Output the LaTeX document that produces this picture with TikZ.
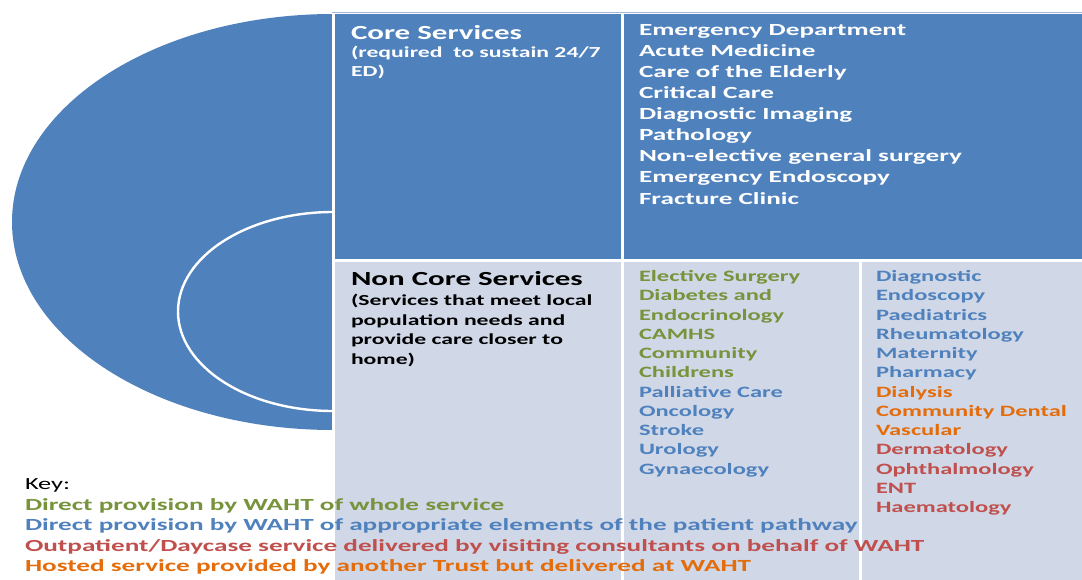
\documentclass[tikz,border=0pt]{standalone}
\usepackage{fontspec}
\setmainfont{Carlito}[FakeStretch=1.55]
\newfontfamily\widefont{Carlito}[FakeStretch=1.6]
\definecolor{coreblue}{HTML}{4F81BD}
\definecolor{lightcell}{HTML}{D0D8E8}
\definecolor{rimline}{HTML}{A3B8D6}
\definecolor{kgreen}{HTML}{77933C}
\definecolor{kblue}{HTML}{4F81BD}
\definecolor{kred}{HTML}{C0504D}
\definecolor{korange}{HTML}{E46C0A}
\begin{document}
\begin{tikzpicture}[x=1pt,y=-1pt,
  cellcore/.style={fill=coreblue,draw=white,line width=3pt},
  celllight/.style={fill=lightcell,draw=white,line width=3pt},
  txt/.style={anchor=base west,inner sep=0pt,outer sep=0pt},
  heading/.style={txt,font=\fontsize{20}{24}\selectfont\bfseries},
  subline/.style={txt,font=\fontsize{15.3}{19}\selectfont\bfseries},
  coreitem/.style={txt,text=white,font=\widefont\fontsize{17}{21}\selectfont\bfseries},
  listitem/.style={txt,font=\fontsize{15.8}{19}\selectfont\bfseries},
  keyline/.style={txt,font=\widefont\fontsize{17}{20}\selectfont\bfseries}]
\useasboundingbox (0,0) rectangle (1082,580);

% nested rings on the left, right halves hidden behind the table
\fill[coreblue] (333,222) ellipse [x radius=321, y radius=208];
\draw[white,line width=2.4pt,fill=coreblue] (333,311.5) ellipse [x radius=155, y radius=99.5];

% table cells
\path[cellcore]  (333,13)  rectangle (622,261);
\path[cellcore]  (622,13)  rectangle (1084,261);
\path[celllight] (333,261) rectangle (622,582);
\path[celllight] (622,261) rectangle (860,582);
\path[celllight] (860,261) rectangle (1084,582);
\draw[rimline,line width=1.5pt] (332,12.5) -- (1082,12.5);

% core services
\node[heading,text=white] (corehead) at (351,39.5) {Core Services};
\node[subline,text=white] (coresub1) at (351,57.5) {(required\ \ to sustain 24/7};
\node[subline,text=white] (coresub2) at (351,76.5) {ED)};
\foreach \t [count=\i] in {Emergency Department,Acute Medicine,Care of the Elderly,
  Critical Care,Diagnostic Imaging,Pathology,Non-elective general surgery,
  Emergency Endoscopy,Fracture Clinic}
  \node[coreitem] (core\i) at (639,{35.7+21.04*(\i-1)}) {\t};

% non core services
\node[heading,text=black] (nchead) at (351,286) {Non Core Services};
\node[subline,text=black] (ncsub1) at (351,305.7) {(Services that meet local};
\node[subline,text=black] (ncsub2) at (351,325.2) {population needs and};
\node[subline,text=black] (ncsub3) at (351,344.7) {provide care closer to};
\node[subline,text=black] (ncsub4) at (351,364.2) {home)};

\foreach \t/\c [count=\i] in {Elective Surgery/kgreen,Diabetes and/kgreen,
  Endocrinology/kgreen,CAMHS/kgreen,Community/kgreen,Childrens/kgreen,
  Palliative Care/kblue,Oncology/kblue,Stroke/kblue,Urology/kblue,Gynaecology/kblue}
  \node[listitem,text=\c] (ncmid\i) at (639,{281.7+19.23*(\i-1)}) {\t};

\foreach \t/\c [count=\i] in {Diagnostic/kblue,Endoscopy/kblue,Paediatrics/kblue,
  Rheumatology/kblue,Maternity/kblue,Pharmacy/kblue,Dialysis/korange,
  Community Dental/korange,Vascular/korange,Dermatology/kred,Ophthalmology/kred,
  ENT/kred,Haematology/kred}
  \node[listitem,text=\c] (ncright\i) at (876,{281.7+19.23*(\i-1)}) {\t};

% key
\node[txt,text=black,font=\fontsize{17}{20}\selectfont] (keyhead) at (25,489.3) {Key:};
\node[keyline,text=kgreen] (key1) at (25,510) {Direct provision by WAHT of whole service};
\node[keyline,text=kblue] (key2) at (25,530.5) {Direct provision by WAHT of appropriate elements of the patient pathway};
\node[keyline,text=kred] (key3) at (25,551) {Outpatient/Daycase service delivered by visiting consultants on behalf of WAHT};
\node[keyline,text=korange] (key4) at (25,571) {Hosted service provided by another Trust but delivered at WAHT};
\end{tikzpicture}
\end{document}
